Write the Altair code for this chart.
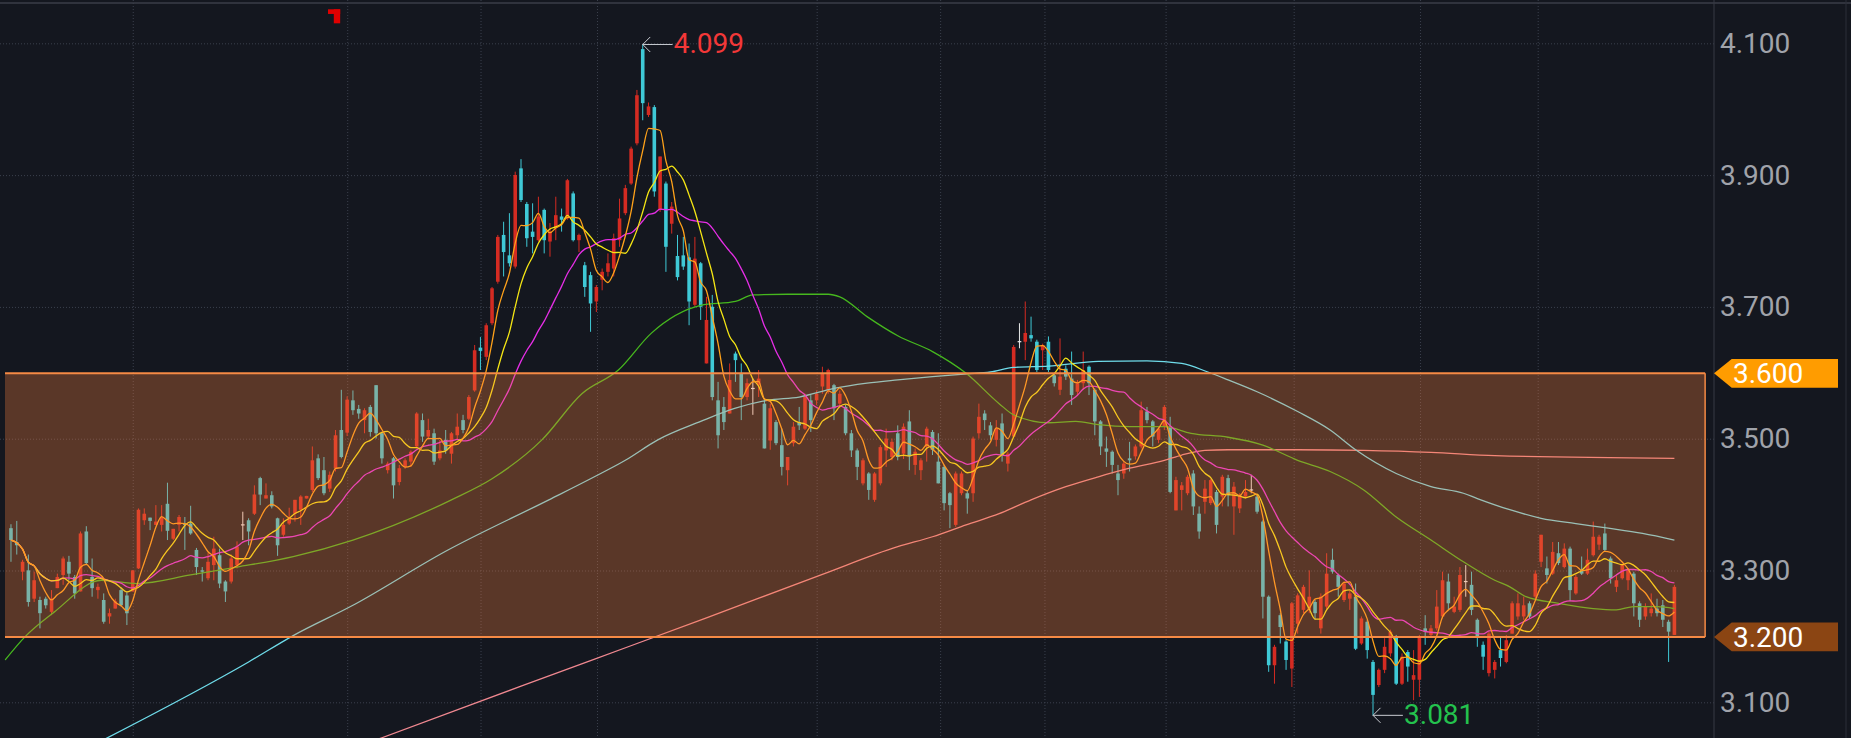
import altair as alt
import pandas as pd

# ---------------- candle data ----------------
opens = [
    3.365, 3.344, 3.299, 3.301, 3.258, 3.256, 3.258, 3.238, 3.274, 3.294,
    3.314, 3.291, 3.269, 3.360, 3.291, 3.271, 3.256, 3.231, 3.243, 3.271,
    3.263, 3.269, 3.304, 3.377, 3.381, 3.370, 3.370, 3.402, 3.349, 3.370,
    3.372, 3.372, 3.332, 3.301, 3.289, 3.309, 3.324, 3.284, 3.284, 3.309,
    3.370, 3.377, 3.387, 3.441, 3.410, 3.415, 3.380, 3.355, 3.372, 3.387,
    3.393, 3.410, 3.423, 3.471, 3.453, 3.425, 3.456, 3.514, 3.510, 3.559,
    3.546, 3.529, 3.549, 3.582, 3.509, 3.453, 3.471, 3.435, 3.458, 3.466,
    3.489, 3.529, 3.504, 3.509, 3.471, 3.499, 3.478, 3.506, 3.529, 3.531,
    3.574, 3.639, 3.625, 3.676, 3.739, 3.810, 3.779, 3.762, 3.911, 3.857,
    3.815, 3.802, 3.848, 3.800, 3.822, 3.838, 3.835, 3.873, 3.802, 3.764,
    3.749, 3.709, 3.742, 3.754, 3.759, 3.802, 3.843, 3.888, 3.949, 4.092,
    3.992, 4.004, 3.848, 3.888, 3.827, 3.778, 3.779, 3.776, 3.704, 3.767,
    3.615, 3.701, 3.559, 3.549, 3.539, 3.630, 3.600, 3.564, 3.577, 3.582,
    3.554, 3.498, 3.526, 3.491, 3.453, 3.494, 3.526, 3.516, 3.559, 3.559,
    3.580, 3.574, 3.582, 3.554, 3.549, 3.509, 3.483, 3.433, 3.448, 3.408,
    3.433, 3.483, 3.473, 3.509, 3.478, 3.527, 3.461, 3.453, 3.489, 3.511,
    3.466, 3.458, 3.418, 3.370, 3.418, 3.418, 3.418, 3.509, 3.539, 3.521,
    3.499, 3.524, 3.463, 3.504, 3.648, 3.648, 3.658, 3.648, 3.635, 3.648,
    3.597, 3.575, 3.607, 3.592, 3.572, 3.585, 3.610, 3.575, 3.527, 3.486,
    3.481, 3.448, 3.448, 3.471, 3.474, 3.489, 3.542, 3.527, 3.499, 3.519,
    3.519, 3.392, 3.423, 3.418, 3.448, 3.387, 3.405, 3.403, 3.420, 3.413,
    3.441, 3.398, 3.395, 3.413, 3.423, 3.413, 3.375, 3.261, 3.157, 3.233,
    3.193, 3.152, 3.220, 3.241, 3.241, 3.253, 3.213, 3.246, 3.317, 3.294,
    3.256, 3.258, 3.261, 3.190, 3.223, 3.162, 3.127, 3.150, 3.175, 3.200,
    3.129, 3.177, 3.135, 3.135, 3.213, 3.203, 3.213, 3.231, 3.284, 3.238,
    3.241, 3.284, 3.279, 3.226, 3.188, 3.145, 3.150, 3.180, 3.162, 3.205,
    3.231, 3.231, 3.251, 3.261, 3.314, 3.304, 3.296, 3.327, 3.306, 3.334,
    3.266, 3.301, 3.296, 3.324, 3.340, 3.357, 3.319, 3.276, 3.289, 3.286,
    3.296, 3.251, 3.231, 3.236, 3.243, 3.248, 3.223, 3.203,
]
highs = [
    3.371, 3.376, 3.317, 3.325, 3.299, 3.261, 3.261, 3.271, 3.296, 3.322,
    3.323, 3.294, 3.360, 3.368, 3.319, 3.281, 3.266, 3.243, 3.258, 3.275,
    3.268, 3.301, 3.395, 3.395, 3.381, 3.400, 3.400, 3.434, 3.364, 3.385,
    3.382, 3.399, 3.335, 3.306, 3.327, 3.352, 3.334, 3.286, 3.325, 3.345,
    3.390, 3.380, 3.430, 3.443, 3.433, 3.421, 3.381, 3.380, 3.396, 3.408,
    3.415, 3.414, 3.489, 3.477, 3.473, 3.451, 3.514, 3.575, 3.565, 3.574,
    3.552, 3.547, 3.552, 3.582, 3.511, 3.466, 3.473, 3.461, 3.471, 3.483,
    3.541, 3.539, 3.531, 3.516, 3.499, 3.514, 3.511, 3.539, 3.537, 3.567,
    3.643, 3.655, 3.676, 3.731, 3.810, 3.830, 3.843, 3.906, 3.925, 3.860,
    3.858, 3.868, 3.850, 3.828, 3.868, 3.850, 3.895, 3.876, 3.812, 3.769,
    3.754, 3.734, 3.759, 3.782, 3.812, 3.865, 3.886, 3.944, 4.030, 4.099,
    4.011, 4.007, 3.929, 3.891, 3.860, 3.810, 3.807, 3.797, 3.807, 3.769,
    3.716, 3.719, 3.587, 3.564, 3.615, 3.633, 3.615, 3.592, 3.592, 3.605,
    3.562, 3.554, 3.529, 3.516, 3.473, 3.526, 3.549, 3.569, 3.567, 3.574,
    3.610, 3.607, 3.584, 3.574, 3.552, 3.514, 3.486, 3.471, 3.450, 3.450,
    3.491, 3.516, 3.501, 3.521, 3.524, 3.544, 3.486, 3.471, 3.519, 3.514,
    3.509, 3.461, 3.420, 3.451, 3.451, 3.423, 3.504, 3.554, 3.544, 3.526,
    3.529, 3.539, 3.481, 3.643, 3.676, 3.709, 3.686, 3.651, 3.645, 3.656,
    3.600, 3.653, 3.612, 3.633, 3.590, 3.633, 3.612, 3.577, 3.529, 3.504,
    3.483, 3.461, 3.466, 3.496, 3.492, 3.557, 3.549, 3.529, 3.519, 3.552,
    3.534, 3.443, 3.435, 3.446, 3.453, 3.398, 3.438, 3.440, 3.423, 3.446,
    3.446, 3.435, 3.418, 3.438, 3.446, 3.415, 3.377, 3.263, 3.188, 3.236,
    3.195, 3.253, 3.266, 3.279, 3.301, 3.256, 3.266, 3.327, 3.334, 3.296,
    3.284, 3.271, 3.281, 3.231, 3.226, 3.165, 3.152, 3.198, 3.211, 3.203,
    3.175, 3.180, 3.180, 3.203, 3.233, 3.218, 3.271, 3.299, 3.296, 3.261,
    3.306, 3.309, 3.299, 3.228, 3.193, 3.208, 3.165, 3.200, 3.203, 3.254,
    3.266, 3.261, 3.254, 3.301, 3.355, 3.322, 3.344, 3.344, 3.342, 3.337,
    3.294, 3.322, 3.334, 3.375, 3.355, 3.372, 3.322, 3.293, 3.311, 3.304,
    3.299, 3.254, 3.251, 3.266, 3.258, 3.256, 3.226, 3.279,
]
lows = [
    3.314, 3.325, 3.286, 3.246, 3.253, 3.213, 3.243, 3.233, 3.274, 3.279,
    3.286, 3.258, 3.269, 3.309, 3.261, 3.258, 3.220, 3.220, 3.243, 3.246,
    3.218, 3.269, 3.303, 3.370, 3.362, 3.370, 3.360, 3.347, 3.347, 3.360,
    3.332, 3.355, 3.294, 3.284, 3.286, 3.286, 3.274, 3.253, 3.281, 3.304,
    3.347, 3.339, 3.385, 3.400, 3.410, 3.395, 3.323, 3.352, 3.370, 3.375,
    3.370, 3.410, 3.420, 3.438, 3.415, 3.420, 3.451, 3.471, 3.505, 3.537,
    3.531, 3.509, 3.504, 3.501, 3.463, 3.448, 3.410, 3.430, 3.455, 3.458,
    3.486, 3.496, 3.499, 3.461, 3.468, 3.478, 3.463, 3.499, 3.509, 3.529,
    3.572, 3.605, 3.620, 3.673, 3.736, 3.747, 3.762, 3.759, 3.860, 3.792,
    3.782, 3.800, 3.782, 3.777, 3.802, 3.815, 3.833, 3.800, 3.784, 3.716,
    3.663, 3.693, 3.726, 3.747, 3.747, 3.792, 3.840, 3.886, 3.946, 3.984,
    3.989, 3.868, 3.845, 3.754, 3.812, 3.741, 3.757, 3.673, 3.701, 3.681,
    3.615, 3.559, 3.486, 3.514, 3.539, 3.587, 3.529, 3.559, 3.537, 3.564,
    3.486, 3.484, 3.491, 3.445, 3.430, 3.489, 3.514, 3.514, 3.511, 3.552,
    3.569, 3.569, 3.529, 3.547, 3.506, 3.473, 3.438, 3.430, 3.408, 3.405,
    3.430, 3.458, 3.468, 3.468, 3.470, 3.453, 3.446, 3.438, 3.466, 3.476,
    3.433, 3.392, 3.365, 3.367, 3.415, 3.387, 3.405, 3.501, 3.514, 3.499,
    3.489, 3.466, 3.451, 3.504, 3.638, 3.620, 3.648, 3.602, 3.605, 3.602,
    3.580, 3.567, 3.590, 3.552, 3.567, 3.575, 3.567, 3.506, 3.476, 3.458,
    3.448, 3.415, 3.440, 3.451, 3.469, 3.486, 3.524, 3.489, 3.494, 3.514,
    3.418, 3.392, 3.392, 3.415, 3.385, 3.349, 3.387, 3.400, 3.357, 3.398,
    3.398, 3.355, 3.388, 3.410, 3.418, 3.387, 3.228, 3.147, 3.129, 3.190,
    3.150, 3.124, 3.205, 3.236, 3.236, 3.226, 3.205, 3.241, 3.296, 3.261,
    3.253, 3.241, 3.180, 3.188, 3.167, 3.081, 3.124, 3.145, 3.170, 3.127,
    3.127, 3.132, 3.104, 3.109, 3.188, 3.200, 3.210, 3.228, 3.241, 3.236,
    3.238, 3.261, 3.233, 3.185, 3.150, 3.140, 3.137, 3.155, 3.160, 3.205,
    3.226, 3.226, 3.228, 3.258, 3.306, 3.281, 3.294, 3.309, 3.304, 3.254,
    3.264, 3.294, 3.294, 3.322, 3.332, 3.329, 3.281, 3.268, 3.287, 3.271,
    3.231, 3.215, 3.226, 3.231, 3.231, 3.215, 3.162, 3.203,
]
closes = [
    3.347, 3.339, 3.314, 3.253, 3.286, 3.236, 3.248, 3.258, 3.291, 3.319,
    3.296, 3.266, 3.357, 3.312, 3.274, 3.276, 3.223, 3.236, 3.254, 3.248,
    3.236, 3.301, 3.393, 3.387, 3.376, 3.375, 3.382, 3.361, 3.364, 3.382,
    3.370, 3.357, 3.306, 3.299, 3.314, 3.334, 3.281, 3.269, 3.319, 3.337,
    3.370, 3.360, 3.416, 3.416, 3.415, 3.398, 3.339, 3.370, 3.380, 3.408,
    3.413, 3.414, 3.468, 3.441, 3.418, 3.446, 3.506, 3.473, 3.560, 3.544,
    3.539, 3.544, 3.511, 3.509, 3.471, 3.463, 3.430, 3.456, 3.468, 3.481,
    3.539, 3.504, 3.514, 3.466, 3.483, 3.483, 3.509, 3.519, 3.514, 3.564,
    3.635, 3.634, 3.673, 3.729, 3.807, 3.784, 3.767, 3.901, 3.863, 3.805,
    3.807, 3.838, 3.802, 3.815, 3.840, 3.833, 3.893, 3.802, 3.810, 3.731,
    3.706, 3.731, 3.754, 3.767, 3.805, 3.835, 3.881, 3.941, 4.022, 4.010,
    4.005, 3.876, 3.929, 3.792, 3.853, 3.746, 3.762, 3.709, 3.774, 3.701,
    3.681, 3.564, 3.506, 3.526, 3.590, 3.620, 3.564, 3.585, 3.577, 3.592,
    3.486, 3.547, 3.494, 3.458, 3.473, 3.519, 3.521, 3.564, 3.529, 3.569,
    3.600, 3.605, 3.547, 3.569, 3.509, 3.483, 3.458, 3.468, 3.423, 3.448,
    3.488, 3.501, 3.496, 3.473, 3.519, 3.474, 3.481, 3.468, 3.516, 3.484,
    3.433, 3.403, 3.400, 3.448, 3.448, 3.410, 3.501, 3.534, 3.529, 3.506,
    3.516, 3.476, 3.478, 3.640, 3.648, 3.661, 3.653, 3.605, 3.643, 3.605,
    3.585, 3.595, 3.595, 3.567, 3.585, 3.605, 3.585, 3.527, 3.489, 3.481,
    3.461, 3.438, 3.463, 3.468, 3.489, 3.544, 3.529, 3.504, 3.516, 3.549,
    3.420, 3.438, 3.430, 3.443, 3.398, 3.360, 3.425, 3.438, 3.370, 3.443,
    3.415, 3.428, 3.415, 3.420, 3.423, 3.390, 3.261, 3.157, 3.185, 3.215,
    3.165, 3.251, 3.263, 3.276, 3.261, 3.236, 3.261, 3.296, 3.299, 3.276,
    3.281, 3.266, 3.182, 3.228, 3.180, 3.112, 3.150, 3.185, 3.208, 3.129,
    3.170, 3.155, 3.142, 3.200, 3.208, 3.213, 3.246, 3.286, 3.251, 3.246,
    3.294, 3.284, 3.241, 3.200, 3.170, 3.205, 3.162, 3.168, 3.195, 3.251,
    3.251, 3.248, 3.231, 3.296, 3.355, 3.294, 3.329, 3.312, 3.334, 3.271,
    3.291, 3.296, 3.317, 3.352, 3.352, 3.332, 3.289, 3.286, 3.309, 3.301,
    3.251, 3.226, 3.246, 3.243, 3.236, 3.226, 3.208, 3.276,
]

# long moving averages (candle index, price)
ma60_i = [-1, 2.4, 7.5, 15.6, 21.8, 31, 39, 48.7, 59, 76, 83, 91.6, 98.5, 104.8,
          110.5, 119, 125, 128, 134, 141, 143, 147.7, 153, 159, 164.8, 170.5, 173,
          179, 183.7, 187.6, 193, 199, 203.6, 210, 216, 222, 227.6, 233.4, 239, 245,
          250.6, 256, 258.6, 261.4, 267, 273, 277, 280, 284, 287]
ma60_v = [3.165, 3.200, 3.238, 3.286, 3.281, 3.294, 3.306, 3.322, 3.347, 3.408,
          3.440, 3.499, 3.569, 3.605, 3.661, 3.703, 3.709, 3.719, 3.720, 3.720,
          3.716, 3.686, 3.657, 3.633, 3.600, 3.554, 3.537, 3.525, 3.527, 3.522,
          3.519, 3.519, 3.509, 3.503, 3.491, 3.468, 3.451, 3.423, 3.382, 3.347,
          3.314, 3.286, 3.276, 3.261, 3.251, 3.243, 3.241, 3.246, 3.246, 3.243]
ma120_i = [14, 41, 48.7, 59, 75, 92.8, 100, 106, 111.6, 119, 125, 130.5, 136, 142,
           147.7, 153, 159, 165, 169, 173, 179, 187.6, 196, 202, 206.5, 210, 215,
           222, 227.6, 232, 239, 245, 250.6, 253, 258.6, 264, 270, 275.6, 281.5, 287]
ma120_v = [3.035, 3.162, 3.202, 3.248, 3.330, 3.408, 3.440, 3.468, 3.499, 3.527,
           3.547, 3.559, 3.564, 3.577, 3.585, 3.590, 3.595, 3.599, 3.602, 3.609,
           3.611, 3.618, 3.619, 3.615, 3.602, 3.590, 3.572, 3.542, 3.514, 3.484,
           3.448, 3.428, 3.418, 3.410, 3.393, 3.380, 3.372, 3.365, 3.357, 3.347]
ma250_i = [58, 64, 100, 120, 140, 153, 159, 164.8, 170.5, 176, 182, 187.6, 193, 199,
           202, 206, 210, 222, 233.4, 245, 256, 287]
ma250_v = [3.027, 3.047, 3.164, 3.229, 3.295, 3.337, 3.352, 3.370, 3.387, 3.408,
           3.428, 3.443, 3.456, 3.468, 3.476, 3.483, 3.484, 3.484, 3.483, 3.480,
           3.475, 3.471]

# month separators (candle index) and price labels
vgrid_i = [21.1, 58.1, 81.1, 101.2, 139.1, 160.4, 178.4, 199.3, 221.4, 243.2, 263.5]
price_ticks = [3.1, 3.3, 3.5, 3.7, 3.9, 4.1]
price_labels = ["3.100", "3.300", "3.500", "3.700", "3.900", "4.100"]

# highlighted zone and its tags
zone_low, zone_high, zone_end = 3.2, 3.6, 292.3
tag_prices = [3.6, 3.2]
tag_labels = ["3.600", "3.200"]

# extreme annotations
ext_i = [109, 235]
ext_p = [4.099, 3.081]
ext_labels = ["4.099", "3.081"]

# ---------------- styling ----------------
BG = "#14171f"
GRID = "#3b404d"
UP, DOWN, FLAT = "#d42b22", "#3fc9d6", "#e8e8e8"
X_DOMAIN = [-1.03, 292.97]
Y_DOMAIN = [3.0466, 4.1665]
FONT = "Roboto"
PW, PH, AXW = 1714, 738, 137

xs = alt.Scale(domain=X_DOMAIN, nice=False, zero=False)
ys = alt.Scale(domain=Y_DOMAIN, nice=False, zero=False)


def X(f):
    return alt.X(f, type="quantitative", scale=xs, axis=None)


def Y(f):
    return alt.Y(f, type="quantitative", scale=ys, axis=None, title=None)


df = pd.DataFrame({"i": list(range(len(closes))), "open": opens, "high": highs,
                   "low": lows, "close": closes})
df["dir"] = ["up" if c > o else ("down" if c < o else "flat") for o, c in zip(opens, closes)]
cscale = alt.Scale(domain=["up", "down", "flat"], range=[UP, DOWN, FLAT])

base = alt.Chart(df)

tick_df = pd.DataFrame({"p": price_ticks, "label": price_labels})
hgrid = alt.Chart(tick_df).mark_rule(
    color=GRID, strokeDash=[1, 2], strokeWidth=1).encode(y=Y("p"))
vgrid = alt.Chart(pd.DataFrame({"g": vgrid_i})).mark_rule(
    color=GRID, strokeDash=[1, 2], strokeWidth=1).encode(x=X("g"))

topline = alt.Chart(pd.DataFrame({"p": [4.162]})).mark_rule(
    color="#3a3e48", strokeWidth=1.5).encode(
    x=alt.value(0), x2=alt.value(PW + AXW), y=Y("p"))

wicks = base.mark_rule(strokeWidth=1).encode(
    x=X("i"), y=Y("low"), y2="high",
    color=alt.Color("dir:N", scale=cscale, legend=None))

bodies = base.mark_bar(width=3.6).encode(
    x=X("i"), y=Y("open"), y2="close",
    color=alt.Color("dir:N", scale=cscale, legend=None))

doji = base.transform_filter("datum.dir == 'flat'").transform_calculate(
    a="datum.i - 0.32", b="datum.i + 0.32").mark_rule(color=FLAT, strokeWidth=1.2).encode(
    x=X("a"), x2="b", y=Y("close"))


def ma_line(n, color):
    name = f"ma{n}"
    return base.transform_window(
        **{name: "mean(close)"}, frame=[-(n - 1), 0], sort=[alt.SortField("i")]
    ).mark_line(color=color, strokeWidth=1.3, interpolate="monotone", clip=True).encode(
        x=X("i"), y=Y(name))


ma5 = ma_line(5, "#ffa21a")
ma10 = ma_line(10, "#f5e614")
ma20 = ma_line(20, "#e62ee6")


def sampled(xi, vals, color):
    return alt.Chart(pd.DataFrame({"i": xi, "v": vals})).mark_line(
        color=color, strokeWidth=1.3, interpolate="monotone", clip=True).encode(
        x=X("i"), y=Y("v"))


ma60 = sampled(ma60_i, ma60_v, "#46b81e")
ma120 = sampled(ma120_i, ma120_v, "#6fdcea")
ma250 = sampled(ma250_i, ma250_v, "#f08890")

zone_df = pd.DataFrame({"x0": [X_DOMAIN[0]], "x1": [zone_end], "lo": [zone_low], "hi": [zone_high]})
zone_fill = alt.Chart(zone_df).mark_rect(color="#ff8040", opacity=0.30).encode(
    x=X("x0"), x2="x1", y=Y("lo"), y2="hi")
zone_edges = alt.Chart(pd.DataFrame({"x0": [X_DOMAIN[0]] * 2, "x1": [zone_end] * 2,
                                     "p": [zone_low, zone_high]})).mark_rule(
    color="#f58a45", strokeWidth=2).encode(x=X("x0"), x2="x1", y=Y("p"))
zone_right = alt.Chart(zone_df).mark_rule(color="#f58a45", strokeWidth=1.5).encode(
    x=X("x1"), y=Y("lo"), y2="hi")

ext_df = pd.DataFrame({"i": ext_i, "p": ext_p, "label": ext_labels,
                       "c": ["#f23838", "#24c24e"]})
ext_base = alt.Chart(ext_df)
ext_line = ext_base.transform_calculate(e="datum.i + 5.15").mark_rule(
    color="#c9ccd2", strokeWidth=1).encode(x=X("i"), x2="e", y=Y("p"))
ext_head = ext_base.mark_point(
    shape="M 1 -1 L 0 0 L 1 1", filled=False, size=225, stroke="#c9ccd2",
    strokeWidth=1, opacity=1).encode(x=X("i"), y=Y("p"))
ext_text = ext_base.mark_text(
    align="left", baseline="middle", dx=31, dy=1, font=FONT, fontSize=28).encode(
    x=X("i"), y=Y("p"), text="label:N", color=alt.Color("c:N", scale=None))

# right price axis
axis_line = alt.Chart(pd.DataFrame({"k": [0]})).mark_rule(color="#363a45", strokeWidth=1).encode(
    x=alt.value(PW), y=alt.value(0), y2=alt.value(PH))
axis_labels = alt.Chart(tick_df).mark_text(
    align="left", baseline="middle", dy=1, font=FONT, fontSize=28, color="#a0a3aa").encode(
    x=alt.value(PW + 6), y=Y("p"), text="label:N")

TAG = "M -1 0 L -0.7145 -0.2315 L 1 -0.2315 L 1 0.2315 L -0.7145 0.2315 Z"
tag_df = pd.DataFrame({"p": tag_prices, "label": tag_labels, "c": ["#ff9c00", "#8b4513"]})
tags = alt.Chart(tag_df).mark_point(
    shape=TAG, filled=True, size=124 * 124, opacity=1, strokeWidth=0).encode(
    x=alt.value(1776), y=Y("p"), color=alt.Color("c:N", scale=None))
tag_text = alt.Chart(tag_df).mark_text(
    align="left", baseline="middle", dy=2, font=FONT, fontSize=28, color="white").encode(
    x=alt.value(1733), y=Y("p"), text="label:N")

marker_df = pd.DataFrame({"x0": [54.7, 55.7], "x1": [56.8, 56.8],
                          "y0": [4.1524, 4.1524], "y1": [4.1453, 4.1311]})
marker = alt.Chart(marker_df).mark_rect(color="#e00000").encode(
    x=X("x0"), x2="x1", y=Y("y0"), y2="y1")

edge = alt.Chart(pd.DataFrame({"k": [0]})).mark_rule(color="#2b2f38", strokeWidth=1).encode(
    x=alt.value(1846), y=alt.value(0), y2=alt.value(PH))

chart = alt.layer(
    hgrid, vgrid, topline, wicks, bodies, doji,
    ma250, ma120, ma60, ma20, ma10, ma5,
    zone_fill, zone_edges, zone_right,
    ext_line, ext_head, ext_text,
    axis_line, axis_labels, tags, tag_text, marker, edge,
).properties(
    width=PW, height=PH,
    padding={"left": 0, "top": 0, "right": AXW, "bottom": 0},
    autosize=alt.AutoSizeParams(type="none"),
).configure(background=BG).configure_view(stroke=None)

chart.save("out.html", embed_options={"renderer": "svg", "actions": False})
